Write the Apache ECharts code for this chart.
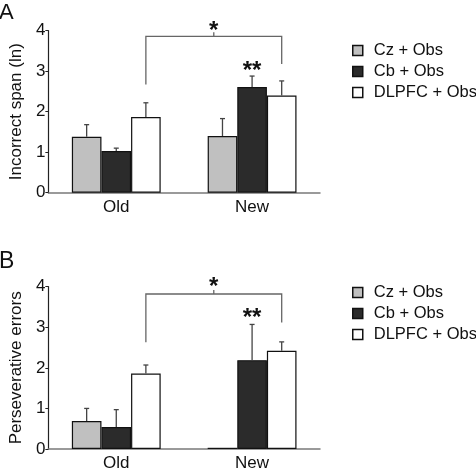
<!DOCTYPE html>
<html>
<head>
<meta charset="utf-8">
<script src="https://cdn.jsdelivr.net/npm/echarts@6/dist/echarts.min.js"></script>
<style>
html,body{margin:0;padding:0;background:#fff;}
#c{width:476px;height:472px;}
</style>
</head>
<body>
<div id="c"></div>
<script>
// ---------- data ----------
const categories = ['Old', 'New'];
const seriesNames = ['Cz + Obs', 'Cb + Obs', 'DLPFC + Obs'];
const yTickValues = [0, 1, 2, 3, 4];

// Panel A: Incorrect span (ln)
const spanCz = [1.38, 1.40];
const spanCb = [1.03, 2.61];
const spanDlpfc = [1.87, 2.40];
const spanCzErr = [0.30, 0.43];
const spanCbErr = [0.07, 0.27];
const spanDlpfcErr = [0.35, 0.36];
// bracket: [left leg bottom, right leg bottom, bar level, centre tick top, star level]
const spanBracket = [2.67, 3.18, 3.86, 3.96, 3.99];
const spanDoubleStar = 3.0;

// Panel B: Perseverative errors
const persCz = [0.69, 0.03];
const persCb = [0.54, 2.19];
const persDlpfc = [1.86, 2.42];
const persCzErr = [0.31, 0];
const persCbErr = [0.43, 0.88];
const persDlpfcErr = [0.21, 0.22];
const persBracket = [2.63, 3.12, 3.82, 3.92, 3.99];
const persDoubleStar = 3.22;

// ---------- styles ----------
const fills = ['#c0c0c0', '#2b2b2b', '#ffffff'];
const barFrac = 0.218;
const FONT = 'Liberation Sans, Arial, sans-serif';

const chart = echarts.init(document.getElementById('c'));

function barSeries(gi, values) {
  return values.map((v, i) => ({
    type: 'bar', name: seriesNames[i], xAxisIndex: gi, yAxisIndex: gi,
    data: v, barWidth: (barFrac * 100) + '%', barGap: '0%',
    itemStyle: { color: fills[i], borderColor: '#111', borderWidth: 1.2 },
    emphasis: { disabled: true }, animation: false
  }));
}

function errSeries(gi, values, errs) {
  const data = [];
  for (let s = 0; s < values.length; s++)
    for (let c = 0; c < categories.length; c++)
      data.push([c, s, values[s][c], errs[s][c]]);
  return {
    type: 'custom', xAxisIndex: gi, yAxisIndex: gi, clip: false, z: 5,
    animation: false, silent: true, data: data,
    renderItem: function (params, api) {
      const c = api.value(0), s = api.value(1), v = api.value(2), e = api.value(3);
      if (!e) return null;
      const bw = api.size([1, 0])[0];
      const off = (s - 1) * bw * barFrac;
      const p0 = api.coord([c, v]);
      const p1 = api.coord([c, v + e]);
      const x = p0[0] + off;
      const st = { stroke: '#444', lineWidth: 1.3 };
      return { type: 'group', children: [
        { type: 'line', shape: { x1: x, y1: p0[1], x2: x, y2: p1[1] }, style: st },
        { type: 'line', shape: { x1: x - 2.5, y1: p1[1], x2: x + 2.5, y2: p1[1] }, style: st }
      ]};
    }
  };
}

function bracketSeries(gi, br, dbl) {
  return {
    type: 'custom', xAxisIndex: gi, yAxisIndex: gi, clip: false, z: 6,
    animation: false, silent: true, data: [[0, 1]],
    renderItem: function (params, api) {
      const bw = api.size([1, 0])[0];
      const off = bw * barFrac; // DLPFC bar offset
      const l = api.coord([0, br[0]]), r = api.coord([1, br[1]]);
      const top = api.coord([0, br[2]])[1];
      const xl = l[0] + off, xr = r[0] + off, xm = (xl + xr) / 2;
      const tickTop = api.coord([0, br[3]])[1];
      const starY = api.coord([0, br[4]])[1];
      const dblP = api.coord([1, dbl]);
      const st = { stroke: '#666', lineWidth: 1.3, fill: null };
      return { type: 'group', children: [
        { type: 'polyline', shape: { points: [[xl, l[1]], [xl, top], [xr, top], [xr, r[1]]] }, style: st },
        { type: 'line', shape: { x1: xm, y1: top, x2: xm, y2: tickTop }, style: st },
        { type: 'text', style: { x: xm, y: starY, text: '*', fill: '#111',
            font: 'bold 24px ' + FONT, textAlign: 'center', textVerticalAlign: 'middle' } },
        { type: 'text', style: { x: dblP[0], y: dblP[1], text: '**', fill: '#111',
            font: 'bold 24px ' + FONT, textAlign: 'center', textVerticalAlign: 'middle' } }
      ]};
    }
  };
}

function xAxis(gi) {
  return {
    type: 'category', gridIndex: gi, data: categories,
    axisLine: { lineStyle: { color: '#7a7a7a', width: 1.5 } },
    axisTick: { length: 4, lineStyle: { color: '#7a7a7a' } },
    axisLabel: { fontSize: 17, color: '#111', fontFamily: FONT, margin: 6 }
  };
}
function yAxis(gi, name) {
  return {
    type: 'value', gridIndex: gi, min: yTickValues[0], max: yTickValues[yTickValues.length - 1], interval: 1,
    name: name, nameLocation: 'middle', nameGap: 23,
    nameTextStyle: { fontSize: 17, color: '#111', fontFamily: FONT },
    axisLine: { show: true, lineStyle: { color: '#222', width: 1.2 } },
    axisTick: { show: true, length: 3, lineStyle: { color: '#222' } },
    axisLabel: { fontSize: 17, color: '#111', fontFamily: FONT, margin: 3 },
    splitLine: { show: false }
  };
}
function legend(top) {
  return {
    data: seriesNames, left: 347, top: top, orient: 'vertical',
    itemWidth: 10, itemHeight: 10, itemGap: 4, icon: 'rect', selectedMode: false,
    itemStyle: { borderColor: '#111', borderWidth: 1.5 },
    textStyle: { fontSize: 16.5, color: '#111', fontFamily: FONT, lineHeight: 16, padding: [0, 0, 0, 6] }
  };
}

chart.setOption({
  animation: false,
  textStyle: { fontFamily: FONT },
  title: [
    { text: 'A', left: -6, top: -3, textStyle: { fontSize: 22, fontWeight: 'normal', color: '#111', fontFamily: FONT } },
    { text: 'B', left: -6, top: 245, textStyle: { fontSize: 23, fontWeight: 'normal', color: '#111', fontFamily: FONT } }
  ],
  legend: [legend(37), legend(279)],
  grid: [
    { left: 36, width: 284, top: 30.7, height: 162 },
    { left: 36, width: 284, top: 286.7, height: 163.3 }
  ],
  xAxis: [xAxis(0), xAxis(1)],
  yAxis: [yAxis(0, 'Incorrect span (ln)'), yAxis(1, 'Perseverative errors')],
  series: [].concat(
    barSeries(0, [spanCz, spanCb, spanDlpfc]),
    [errSeries(0, [spanCz, spanCb, spanDlpfc], [spanCzErr, spanCbErr, spanDlpfcErr])],
    [bracketSeries(0, spanBracket, spanDoubleStar)],
    barSeries(1, [persCz, persCb, persDlpfc]),
    [errSeries(1, [persCz, persCb, persDlpfc], [persCzErr, persCbErr, persDlpfcErr])],
    [bracketSeries(1, persBracket, persDoubleStar)]
  )
});
</script>
</body>
</html>
